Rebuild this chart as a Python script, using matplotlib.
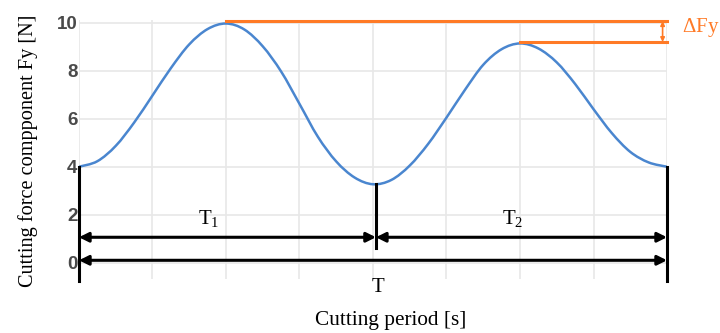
import matplotlib
matplotlib.use("Agg")
import matplotlib.pyplot as plt
from matplotlib.path import Path
from matplotlib.patches import PathPatch

plt.rcParams['mathtext.fontset'] = 'custom'
plt.rcParams['mathtext.rm'] = 'Liberation Serif'

# curve, every 0.25 s
time_s = [0.0, 0.25, 0.5, 0.75, 1.0, 1.25, 1.5, 1.75, 2.0,
          2.25, 2.5, 2.75, 3.0, 3.25, 3.5, 3.75, 4.0,
          4.25, 4.5, 4.75, 5.0, 5.25, 5.5, 5.75, 6.0,
          6.25, 6.5, 6.75, 7.0, 7.25, 7.5, 7.75, 8.0]
force_fy = [4.0, 4.23, 4.87, 5.84, 6.97, 8.11, 9.1, 9.74, 9.97,
            9.72, 9.02, 7.97, 6.62, 5.25, 4.22, 3.55, 3.27,
            3.45, 4.05, 4.95, 6.05, 7.2, 8.25, 8.9, 9.14,
            8.93, 8.35, 7.45, 6.4, 5.4, 4.62, 4.18, 4.0]

y_ticks = [0, 2, 4, 6, 8, 10]

t_start, t_mid, t_end = 0.0, 4.04, 8.0
peak1_t, peak1_f = 2.0, 10.07
peak2_t, peak2_f = 6.0, 9.2

blue = '#4a86cf'
orange = '#ff7a26'
serif = 'Liberation Serif'


def smooth_path(xs, ys):
    """Catmull-Rom through the points, as cubic bezier segments"""
    pts = list(zip(xs, ys))
    n = len(pts)
    verts = [pts[0]]
    codes = [Path.MOVETO]
    for i in range(n - 1):
        p0 = pts[max(i - 1, 0)]
        p1 = pts[i]
        p2 = pts[i + 1]
        p3 = pts[min(i + 2, n - 1)]
        c1 = (p1[0] + (p2[0] - p0[0]) / 6, p1[1] + (p2[1] - p0[1]) / 6)
        c2 = (p2[0] - (p3[0] - p1[0]) / 6, p2[1] - (p3[1] - p1[1]) / 6)
        verts += [c1, c2, p2]
        codes += [Path.CURVE4] * 3
    return Path(verts, codes)


fig = plt.figure(figsize=(7.2, 3.33), dpi=100)
ax = fig.add_axes([0.1097, 0.1607, 0.8167, 0.778])
ax.set_xlim(0, 8)
ax.set_ylim(-0.7, 10.1)

ax.set_xticks(range(0, 9))
ax.set_xticklabels([])
ax.set_yticks(y_ticks)
ax.set_yticklabels([str(v) for v in y_ticks], fontfamily='Liberation Sans',
                   fontweight='bold', fontsize=13.5, color='#4a4a4a')
ax.tick_params(length=0, pad=1)
ax.grid(True, color='#e8e8e8', linewidth=1.2)
ax.set_axisbelow(True)
for s in ax.spines.values():
    s.set_visible(False)

ax.add_patch(PathPatch(smooth_path(time_s, force_fy), facecolor='none',
                       edgecolor=blue, linewidth=1.8, zorder=3))

# orange peak lines and delta arrow
ax.plot([peak1_t, t_end], [peak1_f, peak1_f], color=orange, lw=2.2, zorder=4, clip_on=False)
ax.plot([peak2_t, t_end], [peak2_f, peak2_f], color=orange, lw=2.2, zorder=4, clip_on=False)
ax.annotate('', xy=(t_end - 0.06, peak1_f), xytext=(t_end - 0.06, peak2_f),
            arrowprops=dict(arrowstyle='<|-|>', color=orange, lw=1.2,
                            mutation_scale=6, shrinkA=0, shrinkB=0),
            annotation_clip=False)
ax.text(t_end + 0.2, 9.8, r'$\Delta$Fy', fontfamily=serif, fontsize=15,
        color=orange, va='center', ha='left', clip_on=False)

# black vertical markers
ax.plot([t_start, t_start], [4.0, -0.75], color='black', lw=2.2, clip_on=False, zorder=5)
ax.plot([t_mid, t_mid], [3.27, 0.6], color='black', lw=2.2, clip_on=False, zorder=5)
ax.plot([t_end, t_end], [4.0, -0.75], color='black', lw=2.2, clip_on=False, zorder=5)

arrow = dict(arrowstyle='<|-|>', color='black', lw=2.2, mutation_scale=14,
             shrinkA=0, shrinkB=0)
ax.annotate('', xy=(t_start, 1.06), xytext=(t_mid, 1.06), arrowprops=arrow)
ax.annotate('', xy=(t_mid, 1.06), xytext=(t_end, 1.06), arrowprops=arrow)
ax.annotate('', xy=(t_start, 0.1), xytext=(t_end, 0.1), arrowprops=arrow)

ax.text(1.76, 1.8, r'T$_1$', fontfamily=serif, fontsize=15, ha='center', va='center')
ax.text(5.9, 1.8, r'T$_2$', fontfamily=serif, fontsize=15, ha='center', va='center')
ax.text(4.07, -1.05, 'T', fontfamily=serif, fontsize=15, ha='center', va='center',
        clip_on=False)

fig.text(391 / 720, 1 - 320 / 333, 'Cutting period [s]', fontfamily=serif,
         fontsize=15.3, ha='center', va='center')
fig.text(28 / 720, 1 - 151 / 333, 'Cutting force compponent Fy [N]',
         fontfamily=serif, fontsize=14.6, rotation=90, ha='center', va='center')

fig.savefig('out.png', dpi=100)
